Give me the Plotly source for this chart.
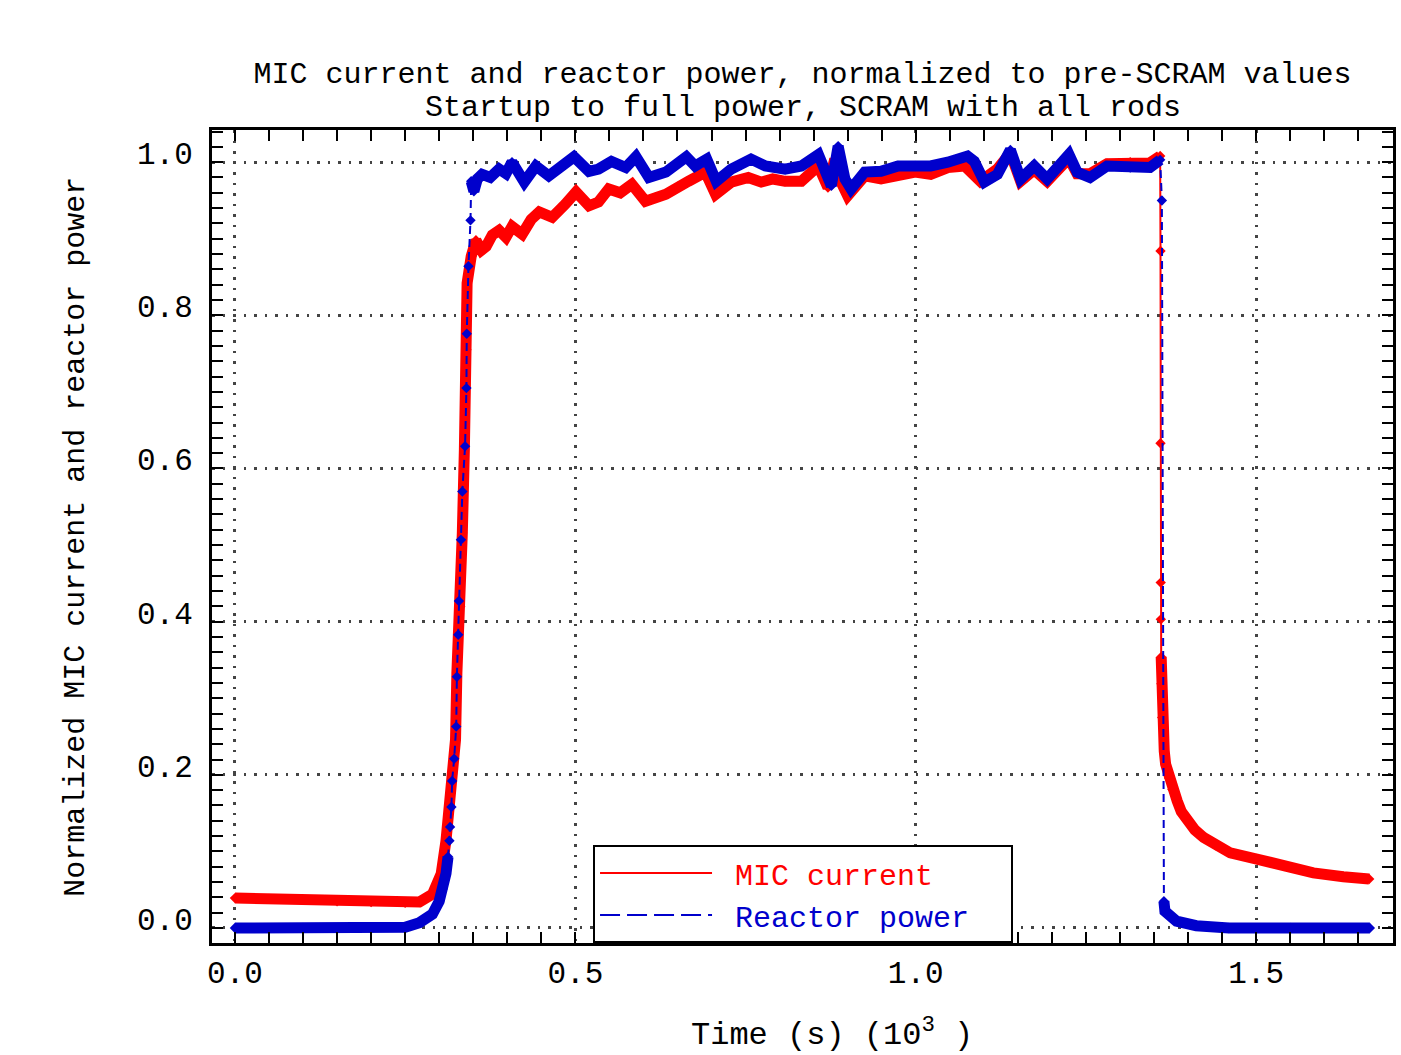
import plotly.graph_objects as go

# ---------------- data (time in 10^3 s, normalized values) ----------------
MIC_T = [0.000, 0.050, 0.100, 0.150, 0.200, 0.250, 0.271, 0.290, 0.303, 0.310,
         0.315, 0.319, 0.324, 0.326, 0.331, 0.334, 0.337, 0.340, 0.341, 0.347,
         0.354, 0.362, 0.369, 0.378, 0.388, 0.398, 0.407, 0.422, 0.435, 0.447,
         0.466, 0.485, 0.501, 0.520, 0.534, 0.549, 0.566, 0.583, 0.603, 0.633,
         0.650, 0.666, 0.691, 0.706, 0.729, 0.754, 0.773, 0.790, 0.808, 0.832,
         0.857, 0.871, 0.881, 0.886, 0.900, 0.925, 0.949, 0.974, 0.999, 1.022,
         1.047, 1.072, 1.095, 1.120, 1.139, 1.154, 1.174, 1.193, 1.225, 1.237,
         1.256, 1.281, 1.315, 1.344, 1.359, 1.3595, 1.3595, 1.3598, 1.3600, 1.3605,
         1.3608, 1.3620, 1.3650, 1.3670, 1.3720, 1.3770, 1.3840, 1.3900, 1.3980, 1.4100,
         1.4230, 1.4400, 1.4620, 1.5010, 1.5410, 1.5840, 1.6280, 1.6660]
MIC_V = [0.039, 0.038, 0.037, 0.035, 0.034, 0.033, 0.034, 0.044, 0.071, 0.114,
         0.157, 0.201, 0.246, 0.333, 0.420, 0.516, 0.625, 0.755, 0.842, 0.877,
         0.898, 0.885, 0.890, 0.905, 0.911, 0.902, 0.916, 0.906, 0.925, 0.935,
         0.928, 0.945, 0.961, 0.943, 0.948, 0.965, 0.960, 0.971, 0.949, 0.958,
         0.968, 0.975, 0.987, 0.958, 0.974, 0.980, 0.974, 0.978, 0.975, 0.975,
         0.995, 0.967, 1.004, 0.982, 0.956, 0.982, 0.978, 0.984, 0.987, 0.984,
         0.993, 0.995, 0.975, 0.991, 1.012, 0.975, 0.990, 0.975, 1.005, 0.985,
         0.985, 0.998, 1.000, 0.999, 1.008, 0.884, 0.633, 0.451, 0.403, 0.354,
         0.319, 0.275, 0.231, 0.214, 0.196, 0.181, 0.166, 0.152, 0.140, 0.128,
         0.118, 0.108, 0.098, 0.090, 0.081, 0.072, 0.067, 0.064]

POW_T = [0.000, 0.100, 0.200, 0.250, 0.271, 0.290, 0.300, 0.305, 0.310, 0.313,
         0.315, 0.316, 0.318, 0.319, 0.322, 0.325, 0.326, 0.328, 0.329, 0.332,
         0.334, 0.338, 0.340, 0.3405, 0.343, 0.346, 0.347, 0.351, 0.356, 0.363,
         0.375, 0.388, 0.398, 0.407, 0.425, 0.442, 0.461, 0.480, 0.498, 0.520,
         0.534, 0.553, 0.574, 0.589, 0.608, 0.633, 0.663, 0.676, 0.693, 0.707,
         0.729, 0.758, 0.779, 0.808, 0.832, 0.857, 0.876, 0.886, 0.896, 0.905,
         0.925, 0.949, 0.974, 0.999, 1.022, 1.047, 1.076, 1.086, 1.101, 1.120,
         1.139, 1.154, 1.174, 1.193, 1.225, 1.237, 1.256, 1.281, 1.315, 1.344,
         1.359, 1.3615, 1.3645, 1.3660, 1.3830, 1.4120, 1.4600, 1.5500, 1.6670]
POW_V = [0.000, 0.000, 0.000, 0.001, 0.007, 0.018, 0.035, 0.051, 0.071, 0.093,
         0.114, 0.132, 0.158, 0.192, 0.221, 0.263, 0.328, 0.383, 0.427, 0.507,
         0.570, 0.629, 0.705, 0.776, 0.864, 0.924, 0.975, 0.962, 0.978, 0.984,
         0.980, 0.991, 0.985, 1.000, 0.974, 0.995, 0.982, 0.995, 1.007, 0.988,
         0.991, 1.001, 0.993, 1.007, 0.980, 0.987, 1.007, 0.995, 1.004, 0.975,
         0.991, 1.004, 0.995, 0.991, 0.995, 1.010, 0.969, 1.021, 0.978, 0.965,
         0.987, 0.988, 0.995, 0.995, 0.995, 1.000, 1.008, 1.001, 0.974, 0.984,
         1.016, 0.978, 0.995, 0.978, 1.010, 0.987, 0.980, 0.995, 0.993, 0.993,
         1.003, 0.950, 0.035, 0.022, 0.009, 0.003, 0.000, 0.000, 0.000]

X_TICKS = [0.0, 0.5, 1.0, 1.5]
X_TICK_TEXT = ["0.0", "0.5", "1.0", "1.5"]
Y_TICKS = [0.0, 0.2, 0.4, 0.6, 0.8, 1.0]
Y_TICK_TEXT = ["0.0", "0.2", "0.4", "0.6", "0.8", "1.0"]

TITLE1 = "MIC current and reactor power, normalized to pre-SCRAM values"
TITLE2 = "Startup to full power, SCRAM with all rods"
XTITLE = "Time (s) (10<sup>3</sup> )"
YTITLE = "Normalized MIC current and reactor power"
NAME_MIC = "MIC current"
NAME_POW = "Reactor power"
SCRAM_T = 1.3595

RED = "#ff0000"
BLUE = "#0000cc"
FONT = "Liberation Mono"

# dense (band) parts: fast transients are drawn thin, as isolated samples
mic_band = [None if (t >= SCRAM_T and 0.36 < v < 0.99) else v for t, v in zip(MIC_T, MIC_V)]
pow_band = [None if (0.095 < v < 0.96) else v for v in POW_V]

fig = go.Figure()
fig.add_trace(go.Scatter(x=MIC_T, y=mic_band, mode="lines", connectgaps=False,
                         line=dict(color=RED, width=11), showlegend=False, hoverinfo="skip"))
fig.add_trace(go.Scatter(x=MIC_T, y=MIC_V, mode="lines+markers",
                         line=dict(color=RED, width=2),
                         marker=dict(symbol="diamond", size=8, color=RED), showlegend=False))
fig.add_trace(go.Scatter(x=POW_T, y=pow_band, mode="lines", connectgaps=False,
                         line=dict(color=BLUE, width=11), showlegend=False, hoverinfo="skip"))
fig.add_trace(go.Scatter(x=POW_T, y=POW_V, mode="lines+markers",
                         line=dict(color=BLUE, width=2, dash="8px,5px"),
                         marker=dict(symbol="diamond", size=8, color=BLUE), showlegend=False))
# legend entries
fig.add_trace(go.Scatter(x=[None], y=[None], mode="lines", line=dict(color=RED, width=2),
                         name=f"<span style='color:{RED}'>&nbsp;{NAME_MIC}</span>"))
fig.add_trace(go.Scatter(x=[None], y=[None], mode="lines",
                         line=dict(color=BLUE, width=2, dash="20px,7px"),
                         name=f"<span style='color:{BLUE}'>&nbsp;{NAME_POW}&nbsp;&nbsp;</span>"))

axis_common = dict(
    showline=True, linecolor="black", linewidth=3, mirror="allticks",
    ticks="inside", ticklen=11, tickwidth=2, tickcolor="black",
    showgrid=True, gridcolor="#444444", gridwidth=2.5, griddash="2.5px,8px",
    zeroline=False, tickfont=dict(family=FONT, size=31, color="black"),
)

fig.update_xaxes(**axis_common, range=[-0.0337, 1.701], tickvals=X_TICKS, ticktext=X_TICK_TEXT,
                 minor=dict(dtick=0.05, tick0=0, ticks="inside", ticklen=11, tickwidth=2,
                            tickcolor="black", showgrid=False))
fig.update_yaxes(**axis_common, range=[-0.0196, 1.042], tickvals=Y_TICKS, ticktext=Y_TICK_TEXT,
                 ticklabelshift=-9, ticklabelstandoff=10,
                 minor=dict(dtick=0.02, tick0=0, ticks="inside", ticklen=11, tickwidth=2,
                            tickcolor="black", showgrid=False))

fig.update_layout(
    width=1401, height=1055,
    margin=dict(l=212, r=5, t=130, b=112),
    plot_bgcolor="white", paper_bgcolor="white",
    font=dict(family=FONT, color="black"),
    title=dict(text=TITLE1, x=0.5, xref="paper", xanchor="center",
               y=1 - 72 / 1055, yref="container", yanchor="middle",
               font=dict(family=FONT, size=30, color="black")),
    legend=dict(x=(594 - 212) / 1184, y=0, xanchor="left", yanchor="bottom",
                bgcolor="white", bordercolor="black", borderwidth=2,
                font=dict(family=FONT, size=30), itemwidth=112, tracegroupgap=0),
    annotations=[
        dict(text=TITLE2, x=0.5, y=(942 - 107) / 813, xref="paper", yref="paper",
             xanchor="center", yanchor="middle", showarrow=False,
             font=dict(family=FONT, size=30, color="black")),
        dict(text=XTITLE, x=(834 - 212) / 1184, y=(942 - 1032) / 813, xref="paper", yref="paper",
             xanchor="center", yanchor="middle", showarrow=False,
             font=dict(family=FONT, size=32, color="black")),
        dict(text=YTITLE, x=(75 - 212) / 1184, y=0.5, xref="paper", yref="paper",
             xanchor="center", yanchor="middle", textangle=-90, showarrow=False,
             font=dict(family=FONT, size=30, color="black")),
    ],
)

fig.write_html("out.html", config={"displayModeBar": False},
               post_script="document.body.style.margin='0';")
